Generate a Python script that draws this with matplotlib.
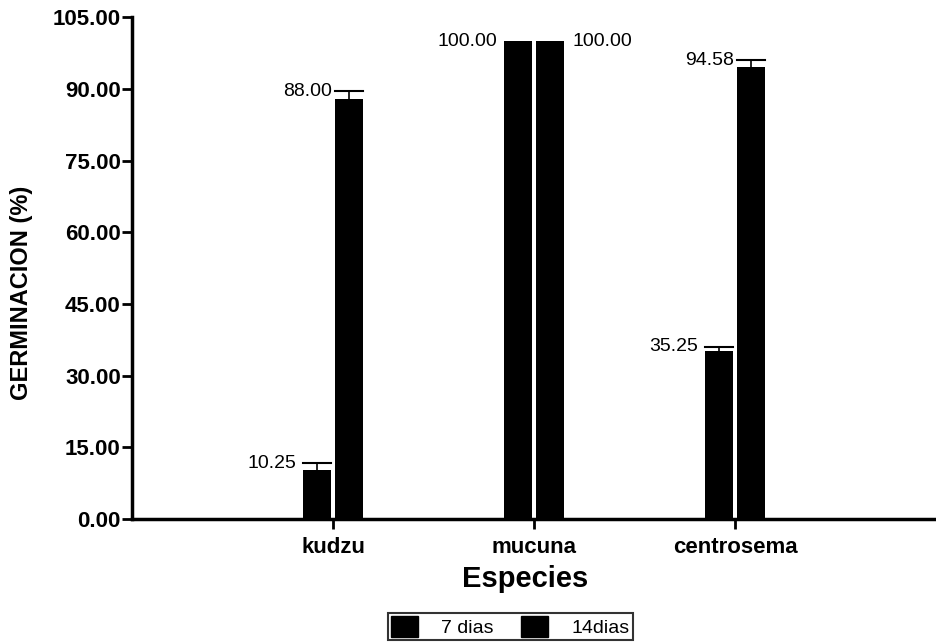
import numpy as np
import matplotlib.pyplot as plt
from matplotlib.patches import Patch

# data
especies = ['kudzu', 'mucuna', 'centrosema']
dias7 = [10.25, 100.00, 35.25]
dias14 = [88.00, 100.00, 94.58]
err7 = [1.4, 0.0, 0.8]
err14 = [1.5, 0.0, 1.4]
yticks = [0, 15, 30, 45, 60, 75, 90, 105]

plt.rcParams['font.family'] = ['Liberation Sans', 'DejaVu Sans']

fig = plt.figure(figsize=(9.36, 6.43), dpi=100)
ax = fig.add_axes([0.141, 0.193, 0.859, 0.78])

x = np.arange(1, len(especies) + 1)
w = 0.14
off = 0.078

ax.bar(x - off, dias7, w, color='black', label='7 dias')
ax.bar(x + off, dias14, w, color='black', label='14dias')

# upper error bars only
for xs, vals, errs in [(x - off, dias7, err7), (x + off, dias14, err14)]:
    for xi, v, e in zip(xs, vals, errs):
        if e > 0:
            ax.plot([xi, xi], [v, v + e], color='black', lw=1.2)
            ax.plot([xi - w / 2, xi + w / 2], [v + e, v + e], color='black', lw=1.5)

# value labels
for xi, v, e in zip(x - off, dias7, err7):
    ax.annotate(f'{v:.2f}', (xi - w / 2, v + e), xytext=(-5, 0), textcoords='offset points',
                ha='right', va='center', fontsize=14)
for xi, v7, v, e in zip(x + off, dias7, dias14, err14):
    if v7 >= v:
        ax.annotate(f'{v:.2f}', (xi + w / 2, v + e), xytext=(6, 0), textcoords='offset points',
                    ha='left', va='center', fontsize=14)
    else:
        ax.annotate(f'{v:.2f}', (xi - w / 2, v + e), xytext=(-2, 0), textcoords='offset points',
                    ha='right', va='center', fontsize=14)

ax.set_xlim(0, 4)
ax.set_ylim(0, 105)
ax.set_yticks(yticks)
ax.set_yticklabels([f'{t:.2f}' for t in yticks], fontsize=16, fontweight='bold')
ax.set_xticks(x)
ax.set_xticklabels(especies, fontsize=16, fontweight='bold')
ax.tick_params(axis='both', direction='out', length=7, width=2, pad=1)
ax.tick_params(axis='x', pad=6)

for s in ['top', 'right']:
    ax.spines[s].set_visible(False)
for s in ['left', 'bottom']:
    ax.spines[s].set_linewidth(2.5)

ax.set_ylabel('GERMINACION (%)', fontsize=17, fontweight='bold')
ax.yaxis.set_label_coords(-0.123, 0.45)
ax.set_xlabel('Especies', fontsize=21, fontweight='bold')
ax.xaxis.set_label_coords(0.489, -0.092)

handles = [Patch(facecolor='black', edgecolor='black'), Patch(facecolor='black', edgecolor='black')]
leg = fig.legend(handles, ['7 dias', '14dias'], loc='center', bbox_to_anchor=(0.545, 0.026),
                 ncol=2, fontsize=14, frameon=True, fancybox=False, edgecolor='black',
                 handlelength=1.4, handleheight=1.3, handletextpad=1.2, columnspacing=1.4,
                 borderpad=0.15, borderaxespad=0)
leg.get_frame().set_linewidth(1.5)

fig.savefig('out.png', dpi=100)
